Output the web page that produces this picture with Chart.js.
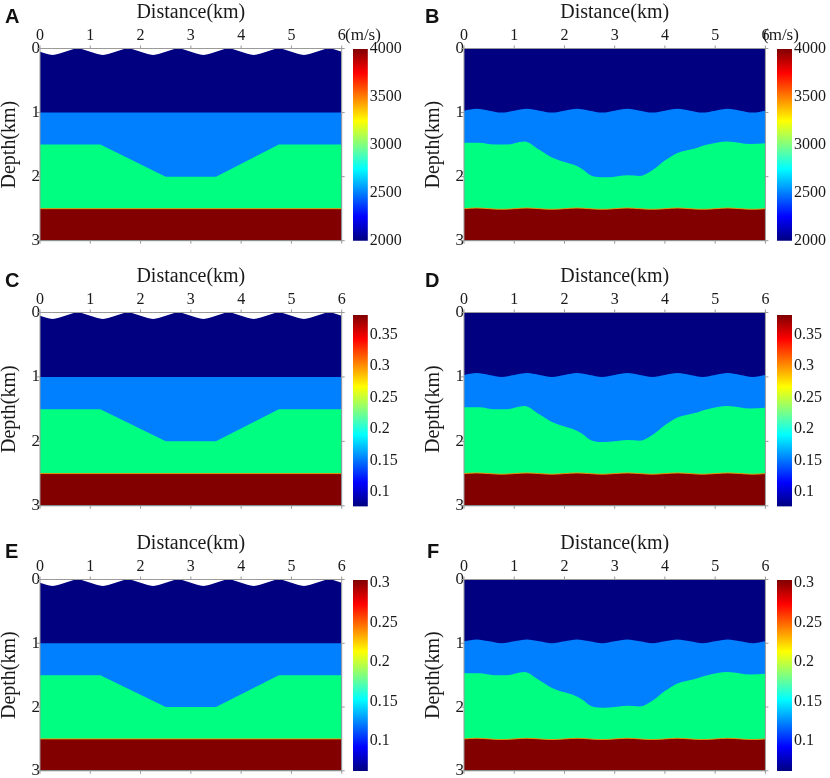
<!DOCTYPE html>
<html lang="en">
<head>
    <meta charset="UTF-8">
    <title>Velocity and anisotropy models</title>
    <script src="https://cdn.jsdelivr.net/npm/chart.js"></script>
    <style>
        body { margin: 0; background: #fff; overflow: hidden; }
        #wrap { position: relative; width: 830px; height: 778px; overflow: hidden; }
        #wrap canvas { position: absolute; }
        .letter { position: absolute; font-family: "Liberation Sans", Arial, sans-serif; font-weight: bold; font-size: 20px; line-height: 20px; color: #111; }
        .unit { position: absolute; font-family: "Liberation Serif", serif; font-size: 17px; line-height: 17px; color: #1a1a1a; }
    </style>
</head>
<body>
<div id="wrap"></div>

<script>
    // axes
    var distanceTicks = [0, 1, 2, 3, 4, 5, 6];
    var depthTicks = [0, 1, 2, 3];

    // model with wavy free surface (A, C, E)
    var quarterX = [0, 0.25, 0.5, 0.75, 1, 1.25, 1.5, 1.75, 2, 2.25, 2.5, 2.75, 3, 3.25, 3.5, 3.75, 4, 4.25, 4.5, 4.75, 5, 5.25, 5.5, 5.75, 6];
    var surfaceDepth = [0.05, 0.1, 0.05, 0, 0.05, 0.1, 0.05, 0, 0.05, 0.1, 0.05, 0, 0.05, 0.1, 0.05, 0, 0.05, 0.1, 0.05, 0, 0.05, 0.1, 0.05, 0, 0.05];
    var flatX = [0, 6];
    var interface1Depth = [1, 1];
    var trapezoidX = [0, 1.2, 2.5, 3.5, 4.75, 6];
    var trapezoidDepth = [1.5, 1.5, 2, 2, 1.5, 1.5];
    var interface3Depth = [2.5, 2.5];

    // model with flat top and rough interfaces (B, D, F)
    var topDepth = [0, 0];
    var waveDepth = [0.97, 0.94, 0.97, 1.0, 0.97, 0.94, 0.97, 1.0, 0.97, 0.94, 0.97, 1.0, 0.97, 0.94, 0.97, 1.0, 0.97, 0.94, 0.97, 1.0, 0.97, 0.94, 0.97, 1.0, 0.97];
    var basinX = [0, 0.3, 0.6, 0.85, 1.2, 1.5, 1.75, 2.0, 2.2, 2.35, 2.55, 2.8, 3.0, 3.25, 3.5, 3.75, 4.0, 4.25, 4.6, 4.85, 5.25, 5.7, 6];
    var basinDepth = [1.47, 1.47, 1.5, 1.5, 1.45, 1.58, 1.7, 1.77, 1.82, 1.88, 1.99, 2.01, 2.0, 1.98, 1.99, 1.9, 1.75, 1.63, 1.56, 1.5, 1.45, 1.49, 1.48];
    var bottomWaveDepth = [2.5, 2.49, 2.5, 2.51, 2.5, 2.49, 2.5, 2.51, 2.5, 2.49, 2.5, 2.51, 2.5, 2.49, 2.5, 2.51, 2.5, 2.49, 2.5, 2.51, 2.5, 2.49, 2.5, 2.51, 2.5];

    // colorbars
    var velocityTicks = [2000, 2500, 3000, 3500, 4000];
    var velocityRange = [2000, 4000];
    var ticksCD = [0.1, 0.15, 0.2, 0.25, 0.3, 0.35];
    var rangeCD = [0.077, 0.381];
    var ticksEF = [0.1, 0.15, 0.2, 0.25, 0.3];
    var rangeEF = [0.062, 0.304];

    var jetPos = [0, 0.125, 0.375, 0.625, 0.875, 1];
    var jetColors = ['#000080', '#0000ff', '#00ffff', '#ffff00', '#ff0000', '#800000'];

    var C1 = '#000080', C2 = '#0080ff', C3 = '#00ff80', C4 = '#820000';

    // deepest layer first, so it is painted last
    var flatModel = [
        { x: flatX, depth: interface3Depth, color: C4, edge: 'rgba(255,150,0,0.85)' },
        { x: trapezoidX, depth: trapezoidDepth, color: C3 },
        { x: flatX, depth: interface1Depth, color: C2 },
        { x: quarterX, depth: surfaceDepth, color: C1, smooth: true }
    ];
    var waveModel = [
        { x: quarterX, depth: bottomWaveDepth, color: C4, edge: 'rgba(255,150,0,0.85)', smooth: true },
        { x: basinX, depth: basinDepth, color: C3, smooth: true },
        { x: quarterX, depth: waveDepth, color: C2, smooth: true },
        { x: flatX, depth: topDepth, color: C1 }
    ];

    Chart.defaults.font.family = '"Liberation Serif", "Times New Roman", serif';
    Chart.defaults.color = '#1a1a1a';

    var wrap = document.getElementById('wrap');

    var frameTicks = {
        id: 'frameTicks',
        afterDatasetsDraw: function(chart) {
            var a = chart.chartArea, ctx = chart.ctx;
            var xs = chart.scales.x, ys = chart.scales.y;
            ctx.save();
            ctx.strokeStyle = '#9a9a9a';
            ctx.lineWidth = 1;
            ctx.strokeRect(a.left, a.top, a.right - a.left, a.bottom - a.top);
            ctx.beginPath();
            distanceTicks.forEach(function(v) {
                var px = xs.getPixelForValue(v);
                ctx.moveTo(px, a.top); ctx.lineTo(px, a.top - 3);
                ctx.moveTo(px, a.bottom); ctx.lineTo(px, a.bottom + 3);
            });
            depthTicks.forEach(function(v) {
                var py = ys.getPixelForValue(v);
                ctx.moveTo(a.left, py); ctx.lineTo(a.left - 3, py);
                ctx.moveTo(a.right, py); ctx.lineTo(a.right + 3, py);
            });
            ctx.stroke();
            ctx.restore();
        }
    };

    function addCanvas(left, top, w, h) {
        var c = document.createElement('canvas');
        c.width = w; c.height = h;
        c.style.left = left + 'px';
        c.style.top = top + 'px';
        c.style.width = w + 'px';
        c.style.height = h + 'px';
        wrap.appendChild(c);
        return c;
    }

    function addText(cls, text, left, top) {
        var d = document.createElement('div');
        d.className = cls;
        d.textContent = text;
        d.style.left = left + 'px';
        d.style.top = top + 'px';
        wrap.appendChild(d);
    }

    function drawModel(model, plot) {
        var W = 350, H = 262, axisLeft = 40, axisTop = 48.5;
        var cv = addCanvas(plot.l - axisLeft, plot.t - axisTop, W, H);
        var datasets = model.map(function(layer) {
            return {
                data: layer.x.map(function(x, i) { return { x: x, y: layer.depth[i] }; }),
                backgroundColor: layer.color,
                borderColor: layer.edge || 'rgba(0,0,0,0)',
                borderWidth: layer.edge ? 1 : 0,
                fill: { value: 3 },
                pointRadius: 0,
                tension: 0,
                cubicInterpolationMode: layer.smooth ? 'monotone' : 'default'
            };
        });
        new Chart(cv, {
            type: 'line',
            data: { datasets: datasets },
            options: {
                responsive: false,
                animation: false,
                events: [],
                layout: { padding: { left: 0, top: 0, right: W - axisLeft - (plot.r - plot.l), bottom: H - axisTop - (plot.b - plot.t) } },
                plugins: { legend: { display: false }, tooltip: { enabled: false } },
                scales: {
                    x: {
                        type: 'linear', position: 'top', min: 0, max: 6,
                        afterBuildTicks: function(s) { s.ticks = distanceTicks.map(function(v) { return { value: v }; }); },
                        afterFit: function(s) { s.height = axisTop; },
                        grid: { display: false, drawTicks: false },
                        border: { display: false },
                        ticks: { font: { size: 16 }, padding: 3, maxRotation: 0, autoSkip: false },
                        title: { display: true, text: 'Distance(km)', font: { size: 20, lineHeight: 1.2 }, padding: { top: 1, bottom: 0 } }
                    },
                    y: {
                        type: 'linear', reverse: true, min: 0, max: 3,
                        afterBuildTicks: function(s) { s.ticks = depthTicks.map(function(v) { return { value: v }; }); },
                        afterFit: function(s) { s.width = axisLeft; },
                        grid: { display: false, drawTicks: false },
                        border: { display: false },
                        ticks: { font: { size: 17 }, padding: 0, autoSkip: false },
                        title: { display: true, text: 'Depth(km)', font: { size: 20, lineHeight: 1 }, padding: { top: 0, bottom: 0 } }
                    }
                }
            },
            plugins: [frameTicks]
        });
    }

    function drawColorbar(bar, range, ticks) {
        var W = 60, H = 240, padTop = 30;
        var cv = addCanvas(bar.l, bar.t - padTop, W, H);
        var barW = bar.r - bar.l;
        new Chart(cv, {
            type: 'bar',
            data: {
                labels: [''],
                datasets: [{
                    data: [[range[0], range[1]]],
                    barPercentage: 1,
                    categoryPercentage: 1,
                    borderWidth: 0,
                    backgroundColor: function(c) {
                        var a = c.chart.chartArea;
                        if (!a) return jetColors[0];
                        var g = c.chart.ctx.createLinearGradient(0, a.bottom, 0, a.top);
                        jetPos.forEach(function(p, i) { g.addColorStop(p, jetColors[i]); });
                        return g;
                    }
                }]
            },
            options: {
                responsive: false,
                animation: false,
                events: [],
                layout: { padding: { left: 0, top: padTop, right: 0, bottom: H - padTop - (bar.b - bar.t) } },
                plugins: { legend: { display: false }, tooltip: { enabled: false } },
                scales: {
                    x: { display: false },
                    y: {
                        position: 'right', min: range[0], max: range[1],
                        afterBuildTicks: function(s) { s.ticks = ticks.map(function(v) { return { value: v }; }); },
                        afterFit: function(s) { s.width = W - barW; },
                        grid: { display: false, drawTicks: false },
                        border: { display: false },
                        ticks: { font: { size: 16 }, padding: 2, autoSkip: false, callback: function(v) { return String(v); } }
                    }
                }
            }
        });
    }

    var rowT = [48.5, 312.7, 579];
    var rowB = [240.7, 506, 770.3];
    var colL = [40, 464.3];
    var colR = [341.7, 765.7];
    var barL = [352.7, 777];
    var barR = [367.5, 792];
    var barT = [49, 314.5, 579.5];
    var barB = [240.7, 506, 770.5];

    var panels = [
        { letter: 'A', row: 0, col: 0, model: flatModel, range: velocityRange, ticks: velocityTicks, unit: '(m/s)' },
        { letter: 'B', row: 0, col: 1, model: waveModel, range: velocityRange, ticks: velocityTicks, unit: '(m/s)' },
        { letter: 'C', row: 1, col: 0, model: flatModel, range: rangeCD, ticks: ticksCD },
        { letter: 'D', row: 1, col: 1, model: waveModel, range: rangeCD, ticks: ticksCD },
        { letter: 'E', row: 2, col: 0, model: flatModel, range: rangeEF, ticks: ticksEF },
        { letter: 'F', row: 2, col: 1, model: waveModel, range: rangeEF, ticks: ticksEF }
    ];

    var letterPos = [[5, 6], [425, 6], [5, 270], [425, 270], [5, 541], [427, 541]];

    panels.forEach(function(p, i) {
        drawModel(p.model, { l: colL[p.col], r: colR[p.col], t: rowT[p.row], b: rowB[p.row] });
        drawColorbar({ l: barL[p.col], r: barR[p.col], t: barT[p.row], b: barB[p.row] }, p.range, p.ticks);
        addText('letter', p.letter, letterPos[i][0], letterPos[i][1]);
        if (p.unit) addText('unit', p.unit, p.col === 0 ? 345 : 763, 25.5);
    });
</script>
</body>
</html>
